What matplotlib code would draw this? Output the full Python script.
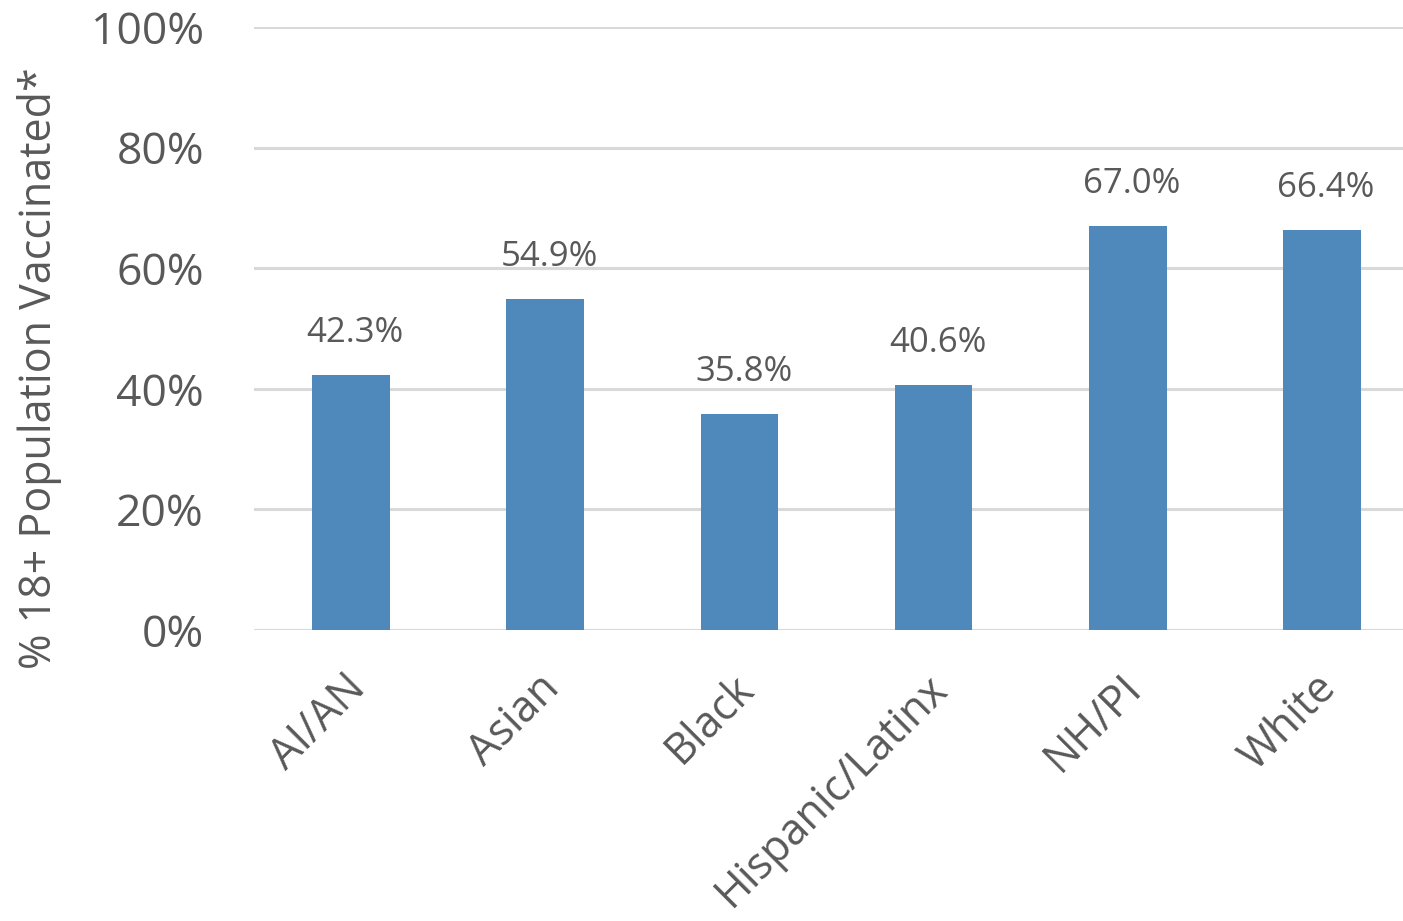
import matplotlib
matplotlib.use("Agg")
import matplotlib.pyplot as plt
import matplotlib.transforms as mtransforms
from matplotlib.ticker import FuncFormatter

categories = ["AI/AN", "Asian", "Black", "Hispanic/Latinx", "NH/PI", "White"]
values = [42.3, 54.9, 35.8, 40.6, 67.0, 66.4]
yticks = [0, 20, 40, 60, 80, 100]

TEXT = "#595959"
BAR = "#4F88BB"
GRID = "#D9D9D9"

plt.rcParams['font.family'] = ['Open Sans', 'DejaVu Sans']

W, H = 1403, 921
fig = plt.figure(figsize=(W/100, H/100), dpi=100)
ax = fig.add_axes([254/W, 1-630/H, (1419-254)/W, (630-27)/H])

x = list(range(len(categories)))
ax.bar(x, values, width=0.40, color=BAR, zorder=3)
for xi, v in zip(x, values):
    ax.annotate(f"{v:.1f}%", (xi, v), xytext=(3, 18), textcoords="offset points",
                ha="center", va="bottom", fontsize=25, color=TEXT)

ax.set_xlim(-0.5, len(categories) - 0.5)
ax.set_ylim(0, 100)
ax.set_yticks(yticks)
ax.yaxis.set_major_formatter(FuncFormatter(lambda v, p: f"{v:.0f}%"))
ax.grid(axis="y", color=GRID, linewidth=2.2, zorder=0)
ax.set_axisbelow(True)
for s in ax.spines.values():
    s.set_visible(False)
ax.tick_params(axis="both", length=0, colors=TEXT)
ax.tick_params(axis="y", labelsize=32, pad=36)
ax.set_xticks(x)
ax.set_xticklabels(categories, rotation=45, ha="right", rotation_mode="anchor",
                   fontsize=31, color=TEXT)
ax.tick_params(axis="x", pad=26)
off = mtransforms.ScaledTranslation(-8/100, 0, fig.dpi_scale_trans)
for lbl in ax.get_xticklabels():
    lbl.set_transform(lbl.get_transform() + off)

fig.text(40/W, 1-368/H, "% 18+ Population Vaccinated*", rotation=90,
         ha="center", va="center", fontsize=31, color=TEXT)

fig.savefig("out.png", dpi=100)
